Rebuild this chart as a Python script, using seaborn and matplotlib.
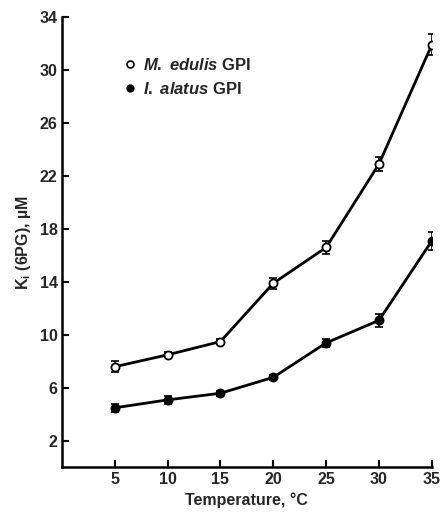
import numpy as np
import pandas as pd
import matplotlib
matplotlib.use("Agg")
import matplotlib.pyplot as plt
import seaborn as sns
from matplotlib.lines import Line2D

temperature = [5, 10, 15, 20, 25, 30, 35]
edulis_ki = [7.6, 8.5, 9.5, 13.9, 16.6, 22.9, 31.9]
edulis_err = [0.4, 0.2, 0.2, 0.4, 0.5, 0.5, 0.8]
alatus_ki = [4.5, 5.1, 5.6, 6.8, 9.4, 11.1, 17.1]
alatus_err = [0.3, 0.3, 0.2, 0.2, 0.3, 0.5, 0.7]
yticks = [2, 6, 10, 14, 18, 22, 26, 30, 34]
xticks = [5, 10, 15, 20, 25, 30, 35]

sns.set_theme(style="ticks")
plt.rcParams['font.family'] = ['Liberation Sans', 'DejaVu Sans']
plt.rcParams['font.weight'] = 'bold'
plt.rcParams['mathtext.fontset'] = 'custom'
plt.rcParams['mathtext.it'] = 'Liberation Sans:italic:bold'
plt.rcParams['mathtext.rm'] = 'Liberation Sans:bold'
plt.rcParams['mathtext.bf'] = 'Liberation Sans:bold'

FS = 11.5

df = pd.DataFrame({
    "Temperature": temperature * 2,
    "Ki": edulis_ki + alatus_ki,
    "err": edulis_err + alatus_err,
    "species": ["edulis"] * 7 + ["alatus"] * 7,
})

fig = plt.figure(figsize=(4.42, 5.12), dpi=100)
ax = fig.add_axes([0.140, 0.087, 0.837, 0.880])

for sp in ["edulis", "alatus"]:
    sub = df[df.species == sp]
    ax.errorbar(sub.Temperature, sub.Ki, yerr=sub.err, fmt="none",
                ecolor="black", elinewidth=1.2, capsize=3, capthick=1.2, zorder=2)
sns.lineplot(data=df, x="Temperature", y="Ki", hue="species",
             palette={"edulis": "black", "alatus": "black"},
             linewidth=2, legend=False, ax=ax, zorder=3)
for sp, fc in [("edulis", "white"), ("alatus", "black")]:
    sub = df[df.species == sp]
    sns.scatterplot(x=sub.Temperature, y=sub.Ki, color=fc, edgecolor="black",
                    linewidth=1.3, s=34, ax=ax, zorder=4, legend=False)

ax.set_xlim(0, 35)
ax.set_ylim(0, 34)
ax.set_xticks(xticks)
ax.set_yticks(yticks)
ax.tick_params(direction="in", length=5, width=1.5, labelsize=FS, pad=3, color="black")
for lab in ax.get_xticklabels() + ax.get_yticklabels():
    lab.set_fontweight("bold")
for s in ["left", "bottom"]:
    ax.spines[s].set_linewidth(1.8)
    ax.spines[s].set_color("black")
sns.despine(ax=ax)
ax.set_xlabel("Temperature, °C", fontsize=FS, fontweight="bold", labelpad=4)
ax.set_ylabel(r"K$_\mathrm{i}$ (6PG), µM", fontsize=FS, fontweight="bold", labelpad=5)

handles = [
    Line2D([], [], marker="o", color="none", markerfacecolor="white",
           markeredgecolor="black", markersize=5, markeredgewidth=1.2),
    Line2D([], [], marker="o", color="none", markerfacecolor="black",
           markeredgecolor="black", markersize=5),
]
labels = [r"$\mathit{M.}$ $\mathit{edulis}$ GPI", r"$\mathit{I.}$ $\mathit{alatus}$ GPI"]
leg = ax.legend(handles, labels, loc="upper left", bbox_to_anchor=(0.12, 0.945),
                frameon=False, fontsize=12, handletextpad=0.3, handlelength=1.0,
                labelspacing=0.5)
for t in leg.get_texts():
    t.set_fontweight("bold")

fig.savefig("out.png", dpi=100)
